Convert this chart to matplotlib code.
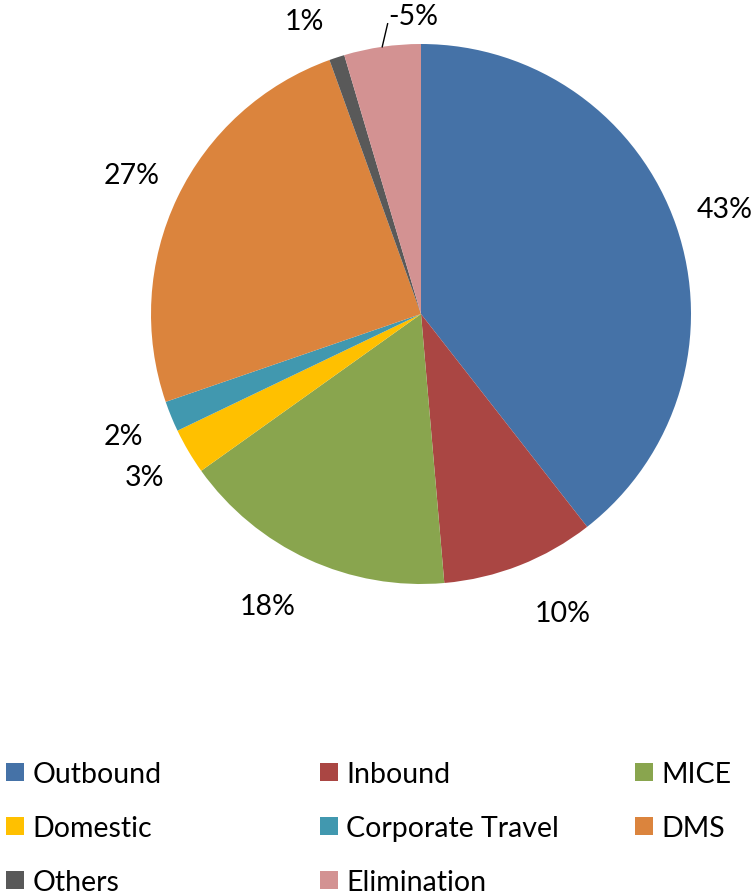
import matplotlib.pyplot as plt
from matplotlib.patches import Patch
import numpy as np

plt.rcParams['font.family'] = ['Lato', 'DejaVu Sans']

# Data (share in %, Elimination is negative).
categories = ["Outbound", "Inbound", "MICE", "Domestic", "Corporate Travel", "DMS", "Others", "Elimination"]
values = [43, 10, 18, 3, 2, 27, 1, -5]
colors = ["#4572A7", "#AA4643", "#89A54E", "#FFC000", "#4198AF", "#DB843D", "#595959", "#D39292"]

fig = plt.figure(figsize=(7.55, 8.95), dpi=100)
ax = fig.add_axes([151 / 755, 310 / 895, 540 / 755, 540 / 895])

labels = [f"{v}%" for v in values]
wedges, texts = ax.pie(np.abs(values), labels=labels, colors=colors, startangle=90,
                       counterclock=False, labeldistance=1.19, radius=1.0,
                       textprops={'fontsize': 20.5, 'color': 'black'},
                       wedgeprops={'linewidth': 0})
for t in texts:
    t.set_ha('center')
    t.set_va('center')

# small nudges where the original moved the labels
texts[1].set_position(np.array(texts[1].get_position()) + [0.09, 0.0])
texts[2].set_position(np.array(texts[2].get_position()) + [-0.07, 0.0])

# Elimination label is pushed right with a leader line, as in the original.
w = wedges[-1]
mid = np.deg2rad((w.theta1 + w.theta2) / 2)
x0, y0 = np.cos(mid), np.sin(mid)
ax.plot([x0, x0 + 0.02], [y0, 1.075], color='black', lw=1, clip_on=False)
texts[-1].set_position((-0.03, 1.105))
texts[-2].set_position((-0.43, 1.085))

ax.set_xlim(-1, 1)
ax.set_ylim(-1, 1)
ax.set_aspect('equal')
ax.axis('off')

# Legend: three fixed-width columns, filled row by row.
handles = [Patch(facecolor=c, edgecolor='none') for c in colors]
col_x = [6 / 755, 320 / 755, 635 / 755]
for j in range(3):
    idx = list(range(j, len(categories), 3))
    fig.legend([handles[i] for i in idx], [categories[i] for i in idx],
               loc='upper left', bbox_to_anchor=(col_x[j], 1 - 762 / 895),
               frameon=False, fontsize=20.5, handlelength=0.62, handleheight=0.62,
               handletextpad=0.3, labelspacing=0.98, borderaxespad=0, borderpad=0)

fig.savefig("out.png", dpi=100)
